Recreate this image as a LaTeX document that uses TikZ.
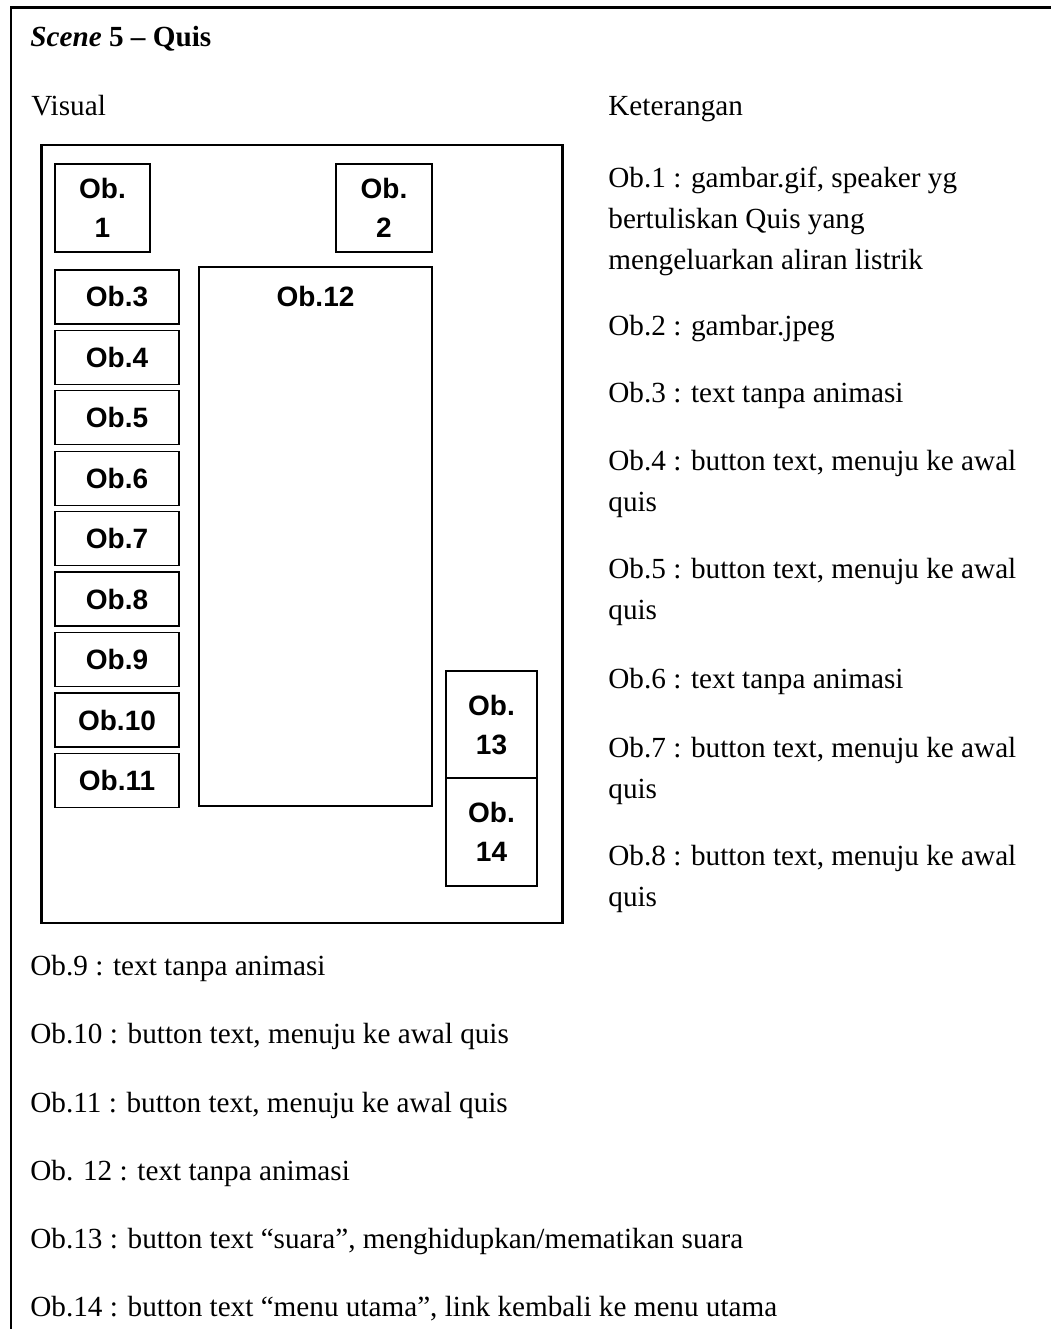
\documentclass[tikz,border=0pt]{standalone}
\usepackage{fontspec}
\setmainfont{Liberation Serif}
\setsansfont{Liberation Sans}
\usepackage{tikz}

\newcommand{\baris}[1]{\begin{tabular}[t]{@{}l@{}}#1\end{tabular}}

\tikzset{
	kotak/.style={draw, line width=0.9pt, inner sep=0pt, align=center,
		font=\fontsize{14}{19.5}\sffamily\bfseries},
	teks/.style={anchor=base west, inner sep=0pt,
		font=\fontsize{14.6}{20.5}\selectfont}
}

\begin{document}
\begin{tikzpicture}[x=0.5pt,y=-0.5pt]
		\useasboundingbox (0,0) rectangle (1051,1329);
		
		%bingkai
		\draw[line width=1.3pt] (11,1329) -- (11,7.3) -- (1051,7.3);
		\draw[line width=1.1pt] (41.5,145) rectangle (562.5,923);
		
		%judul
		\node[teks] (judul) at (30,46) {\textbf{\textit{Scene} 5 – Quis}};
		\node[teks] (visual) at (31,115) {Visual};
		\node[teks] (ket) at (608,115) {Keterangan};
		
		%kotak
		\node[kotak, minimum width=47.5pt, minimum height=44pt] (ob1) at (102.5,208) {Ob.\\1};
		\node[kotak, minimum width=48pt, minimum height=44pt] (ob2) at (384,208) {Ob.\\2};
		\node[kotak, minimum width=62pt, minimum height=27pt] (ob3) at (117,297) {Ob.3};
		\node[kotak, minimum width=62pt, minimum height=27pt] (ob4) at (117,357.5) {Ob.4};
		\node[kotak, minimum width=62pt, minimum height=27pt] (ob5) at (117,417.5) {Ob.5};
		\node[kotak, minimum width=62pt, minimum height=27pt] (ob6) at (117,478.5) {Ob.6};
		\node[kotak, minimum width=62pt, minimum height=27pt] (ob7) at (117,538.5) {Ob.7};
		\node[kotak, minimum width=62pt, minimum height=27pt] (ob8) at (117,599) {Ob.8};
		\node[kotak, minimum width=62pt, minimum height=27pt] (ob9) at (117,659.5) {Ob.9};
		\node[kotak, minimum width=62pt, minimum height=27pt] (ob10) at (117,720) {Ob.10};
		\node[kotak, minimum width=62pt, minimum height=27pt] (ob11) at (117,780.5) {Ob.11};
		\node[kotak, minimum width=116.5pt, minimum height=269.5pt] (ob12) at (315.5,536.5) {};
		\node[kotak, draw=none, anchor=base] (lbl12) at (315.5,306) {Ob.12};
		\node[kotak, minimum width=45.5pt, minimum height=53.5pt] (ob13) at (491.5,724.5) {Ob.\\13};
		\node[kotak, minimum width=45.5pt, minimum height=54pt] (ob14) at (491.5,832) {Ob.\\14};
		
		%keterangan
		\node[teks] (k1) at (608,187) {\baris{Ob.1 : gambar.gif, speaker yg\\bertuliskan Quis yang\\mengeluarkan aliran listrik}};
		\node[teks] (k2) at (608,335) {Ob.2 : gambar.jpeg};
		\node[teks] (k3) at (608,402) {Ob.3 : text tanpa animasi};
		\node[teks] (k4) at (608,470) {\baris{Ob.4 : button text, menuju ke awal\\quis}};
		\node[teks] (k5) at (608,578) {\baris{Ob.5 : button text, menuju ke awal\\quis}};
		\node[teks] (k6) at (608,688) {Ob.6 : text tanpa animasi};
		\node[teks] (k7) at (608,757) {\baris{Ob.7 : button text, menuju ke awal\\quis}};
		\node[teks] (k8) at (608,865) {\baris{Ob.8 : button text, menuju ke awal\\quis}};
		\node[teks] (k9) at (30,975) {Ob.9 : text tanpa animasi};
		\node[teks] (k10) at (30,1043) {Ob.10 : button text, menuju ke awal quis};
		\node[teks] (k11) at (30,1112) {Ob.11 : button text, menuju ke awal quis};
		\node[teks] (k12) at (30,1180) {Ob. 12 : text tanpa animasi};
		\node[teks] (k13) at (30,1248) {Ob.13 : button text “suara”, menghidupkan/mematikan suara};
		\node[teks] (k14) at (30,1316) {Ob.14 : button text “menu utama”, link kembali ke menu utama};
		
	\end{tikzpicture}
\end{document}
